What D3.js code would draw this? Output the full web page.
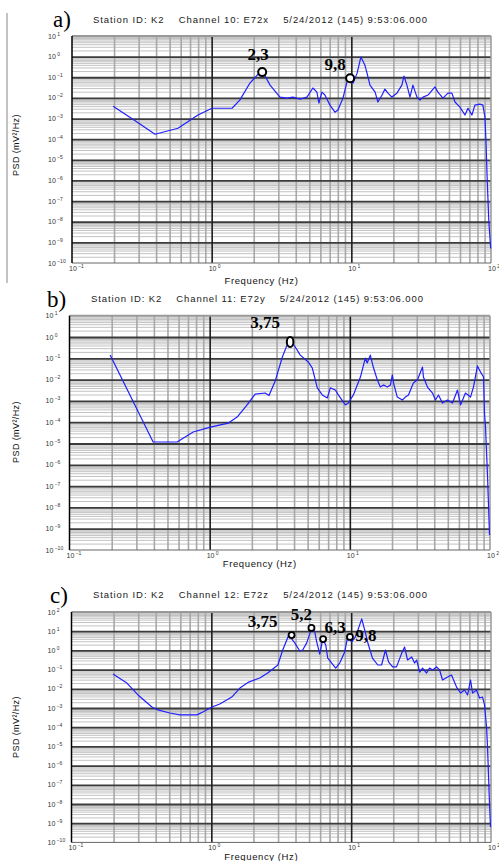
<!DOCTYPE html>
<html>
<head>
<meta charset="utf-8">
<script src="https://cdn.jsdelivr.net/npm/d3@7"></script>
<style>
  body { margin: 0; background: #fff; }
  svg { display: block; }
</style>
</head>
<body>
<svg width="499" height="861"></svg>
<script>
// frequency (Hz) and log10(PSD)
const freqA = [0.197,0.292,0.393,0.574,0.798,1.005,1.40,1.59,1.88,2.22,2.41,2.62,3.08,3.46,3.82,4.29,4.81,5.31,5.67,5.86,6.16,6.47,7.03,7.63,8.02,8.71,9.46,9.77,10.3,11.0,11.7,12.5,12.9,13.6,14.8,15.5,16.6,17.4,18.3,19.5,21.2,23.0,23.8,25.0,26.3,27.6,29.5,31.0,32.6,35.4,39.7,41.7,45.3,49.2,52.5,55.2,59.9,65.1,68.4,73.0,76.7,83.3,87.5,90.5,92.0,94.0,96.5,99.5];
const logPsdA = [-2.40,-3.17,-3.76,-3.47,-2.83,-2.50,-2.50,-2.11,-1.28,-0.75,-0.94,-1.38,-1.96,-2.01,-1.96,-2.06,-1.96,-1.52,-1.72,-2.25,-1.72,-1.86,-2.35,-2.69,-2.59,-2.01,-1.04,-1.23,-1.28,-0.80,-0.02,-0.41,-0.75,-1.38,-1.72,-2.20,-1.86,-1.57,-1.77,-1.96,-1.77,-1.38,-0.94,-1.38,-1.96,-1.38,-1.96,-2.11,-1.96,-1.86,-1.47,-1.72,-2.01,-1.77,-1.77,-2.20,-2.45,-2.83,-2.50,-2.83,-2.35,-2.30,-2.35,-2.93,-4.05,-6.0,-8.0,-9.3];

const freqB = [0.195,0.395,0.586,0.762,1.01,1.36,1.57,1.85,2.11,2.49,2.65,2.94,3.30,3.64,3.88,4.08,4.43,5.05,5.40,5.86,6.36,6.91,7.26,7.88,8.28,9.29,9.76,10.6,11.9,12.9,13.3,14.0,14.7,15.7,16.5,17.4,18.5,19.5,20.1,20.5,21.8,23.7,24.9,26.2,28.4,30.4,33.0,33.5,35.8,38.9,40.8,42.9,45.8,49.7,54.0,58.6,61.6,66.8,72.6,76.2,81.4,85.5,89.9,91.4,92.9,96.0,99.2];
const logPsdB = [-0.85,-4.93,-4.93,-4.46,-4.23,-4.04,-3.76,-3.19,-2.68,-2.63,-2.75,-2.05,-0.94,-0.23,-0.28,-0.47,-0.85,-1.17,-1.46,-2.39,-2.72,-2.86,-2.39,-2.49,-2.72,-3.19,-3.10,-2.72,-1.88,-0.99,-1.22,-0.85,-1.41,-2.01,-2.35,-2.25,-2.35,-2.25,-1.78,-2.16,-2.82,-2.96,-2.82,-2.72,-2.16,-2.01,-1.41,-1.88,-2.35,-2.63,-2.96,-2.72,-3.10,-2.96,-3.10,-2.49,-3.19,-2.63,-2.82,-2.35,-1.36,-1.64,-1.88,-3.57,-4.23,-6.5,-9.3];

const freqC = [0.198,0.249,0.299,0.376,0.415,0.505,0.596,0.788,0.870,1.01,1.15,1.40,1.60,1.85,2.22,2.53,2.99,3.24,3.58,3.95,4.29,4.50,4.81,5.22,5.49,5.67,5.96,6.26,6.58,6.80,7.75,8.28,8.99,9.44,10.1,10.6,11.0,11.9,12.5,13.1,14.2,15.5,16.5,17.6,18.5,19.8,21.1,23.0,24.1,25.3,27.1,28.4,29.4,30.9,32.4,34.6,36.4,38.2,40.8,42.9,45.0,48.9,52.2,54.0,56.7,60.6,64.7,68.0,71.4,73.8,78.8,82.8,87.0,89.9,92.9,94.4,96.0,97.6,99.2];
const logPsdC = [-1.23,-1.70,-2.32,-2.95,-3.10,-3.26,-3.36,-3.36,-3.21,-2.95,-2.79,-2.43,-1.96,-1.65,-1.44,-1.18,-0.76,0.02,0.80,0.39,-0.03,0.02,0.39,1.17,0.96,0.44,-0.19,0.59,0.28,-0.40,-0.92,-0.66,-0.08,0.70,0.44,0.65,0.91,1.64,1.06,0.44,-0.40,-0.76,-0.76,0.02,-0.60,-0.86,-0.86,-0.14,0.18,-0.50,-0.34,-0.66,-0.50,-1.13,-0.92,-1.18,-0.92,-1.02,-0.86,-1.02,-1.54,-1.39,-1.28,-1.54,-1.91,-2.22,-2.06,-2.32,-1.54,-2.22,-2.06,-2.48,-2.43,-2.84,-3.99,-5.0,-6.5,-8.0,-9.2];

// marked peaks
const peakFreqA = [2.3, 9.8];
const peakLogA = [-0.75, -1.05];
const peakLabelA = ['2,3', '9,8'];
const peakFreqB = [3.75];
const peakLogB = [-0.23];
const peakLabelB = ['3,75'];
const peakFreqC = [3.75, 5.2, 6.3, 9.8];
const peakLogC = [0.80, 1.17, 0.59, 0.70];
const peakLabelC = ['3,75', '5,2', '6,3', '9,8'];

// axis ticks
const xTickExp = [-1, 0, 1, 2];
const yTickExpAB = [1, 0, -1, -2, -3, -4, -5, -6, -7, -8, -9, -10];
const yTickExpC = [2, 1, 0, -1, -2, -3, -4, -5, -6, -7, -8, -9, -10];

const titles = [
    'Station ID: K2    Channel 10: E72x    5/24/2012 (145) 9:53:06.000',
    'Station ID: K2    Channel 11: E72y    5/24/2012 (145) 9:53:06.000',
    'Station ID: K2    Channel 12: E72z    5/24/2012 (145) 9:53:06.000'
];
const letters = ['a)', 'b)', 'c)'];

const panels = [
    { freq: freqA, psd: logPsdA, pf: peakFreqA, pl: peakLogA, plab: peakLabelA, yTicks: yTickExpAB,
      left: 72, right: 491, top: 36, bottom: 263, title: titles[0], titleX: 93, titleY: 23, titleLen: 334,
      letter: letters[0], letterX: 53, letterY: 27, freqLabelY: 284, psdLabelY: 145,
      marker: { rx: 4, ry: 4, sw: 2 }, labOff: [[-4, -12], [-15, -8]], border: true },
    { freq: freqB, psd: logPsdB, pf: peakFreqB, pl: peakLogB, plab: peakLabelB, yTicks: yTickExpAB,
      left: 69.5, right: 490, top: 315.7, bottom: 550, title: titles[1], titleX: 91, titleY: 302, titleLen: 332,
      letter: letters[1], letterX: 47, letterY: 307, freqLabelY: 567, psdLabelY: 432,
      marker: { rx: 3.3, ry: 5, sw: 2 }, labOff: [[-25, -14]] },
    { freq: freqC, psd: logPsdC, pf: peakFreqC, pl: peakLogC, plab: peakLabelC, yTicks: yTickExpC,
      left: 71.5, right: 491, top: 612, bottom: 842.4, title: titles[2], titleX: 93, titleY: 598, titleLen: 334,
      letter: letters[2], letterX: 50, letterY: 603, freqLabelY: 860, psdLabelY: 727,
      marker: { rx: 3, ry: 3, sw: 1.8 }, labOff: [[-29, -8], [-10, -8], [12, -6], [16, 4]] }
];

const svg = d3.select('svg');

function pow10(e) { return Math.pow(10, e); }

function drawPanel(p) {
    const g = svg.append('g');
    const yMax = d3.max(p.yTicks), yMin = d3.min(p.yTicks);
    const w = p.right - p.left, h = p.bottom - p.top;

    const x = d3.scaleLog().domain([0.1, 100]).range([p.left, p.right]);
    const y = d3.scaleLog().domain([pow10(yMin), pow10(yMax)]).range([p.bottom, p.top]);

    g.append('rect').attr('x', p.left).attr('y', p.top).attr('width', w).attr('height', h).attr('fill', '#fff');

    // minor / major grid values
    const minorX = [], minorY = [];
    for (let k = -1; k < 2; k++) for (let m = 2; m <= 9; m++) minorX.push(m * pow10(k));
    for (let k = yMin; k < yMax; k++) for (let m = 2; m <= 9; m++) minorY.push(m * pow10(k));
    const majorX = [1, 10];
    const majorY = p.yTicks.filter(e => e !== yMin && e !== yMax).map(pow10);

    g.append('g')
        .attr('transform', 'translate(' + p.left + ',0)')
        .call(d3.axisLeft(y).tickValues(minorY).tickSize(-w).tickFormat(''))
        .call(s => s.select('.domain').remove())
        .selectAll('line').attr('stroke', '#c2c2c2').attr('stroke-width', 1);

    g.append('g')
        .attr('transform', 'translate(0,' + p.bottom + ')')
        .call(d3.axisBottom(x).tickValues(minorX).tickSize(-h).tickFormat(''))
        .call(s => s.select('.domain').remove())
        .selectAll('line').attr('stroke', '#a8a8a8').attr('stroke-width', 1.6);

    g.append('g')
        .attr('transform', 'translate(' + p.left + ',0)')
        .call(d3.axisLeft(y).tickValues(majorY).tickSize(-w).tickFormat(''))
        .call(s => s.select('.domain').remove())
        .selectAll('line').attr('stroke', '#3c3c3c').attr('stroke-width', 1.8);

    g.append('g')
        .attr('transform', 'translate(0,' + p.bottom + ')')
        .call(d3.axisBottom(x).tickValues(majorX).tickSize(-h).tickFormat(''))
        .call(s => s.select('.domain').remove())
        .selectAll('line').attr('stroke', '#1e1e1e').attr('stroke-width', 1.6);

    // frame
    g.append('line').attr('x1', p.left).attr('x2', p.right).attr('y1', p.top).attr('y2', p.top)
        .attr('stroke', '#999').attr('stroke-width', 2);
    g.append('line').attr('x1', p.right).attr('x2', p.right).attr('y1', p.top).attr('y2', p.bottom)
        .attr('stroke', '#999').attr('stroke-width', 1.5);
    g.append('line').attr('x1', p.left).attr('x2', p.right).attr('y1', p.bottom).attr('y2', p.bottom)
        .attr('stroke', '#666').attr('stroke-width', 1);
    g.append('line').attr('x1', p.left).attr('x2', p.left).attr('y1', p.top).attr('y2', p.bottom)
        .attr('stroke', '#000').attr('stroke-width', 1.5);

    // tick labels
    p.yTicks.forEach(e => {
        const t = g.append('text')
            .attr('x', p.left - 24).attr('y', y(pow10(e)) + 2.5)
            .attr('font-family', 'Arial, Liberation Sans, sans-serif').attr('font-size', 7)
            .attr('fill', '#333');
        t.append('tspan').text('10');
        t.append('tspan').attr('dy', -3).attr('font-size', 5).text(' ' + (e < 0 ? '\u2212' + (-e) : e));
    });
    xTickExp.forEach(e => {
        const t = g.append('text')
            .attr('x', x(pow10(e)) - 3).attr('y', p.bottom + 8)
            .attr('font-family', 'Arial, Liberation Sans, sans-serif').attr('font-size', 7)
            .attr('fill', '#333');
        t.append('tspan').text('10');
        t.append('tspan').attr('dy', -3).attr('font-size', 5).text(' ' + (e < 0 ? '\u2212' + (-e) : e));
    });

    // axis titles
    g.append('text')
        .attr('x', (p.left + p.right) / 2 - 20).attr('y', p.freqLabelY)
        .attr('text-anchor', 'middle')
        .attr('font-family', 'Arial, Liberation Sans, sans-serif').attr('font-size', 9.5)
        .attr('letter-spacing', 0.6).attr('fill', '#111')
        .text('Frequency (Hz)');
    g.append('text')
        .attr('transform', 'translate(19,' + p.psdLabelY + ') rotate(-90)')
        .attr('text-anchor', 'middle')
        .attr('font-family', 'Arial, Liberation Sans, sans-serif').attr('font-size', 9)
        .attr('letter-spacing', 0.4).attr('fill', '#111')
        .text('PSD (mV\u00b2/Hz)');

    // title
    g.append('text')
        .attr('x', p.titleX).attr('y', p.titleY)
        .attr('textLength', p.titleLen).attr('lengthAdjust', 'spacing')
        .attr('font-family', 'Arial, Liberation Sans, sans-serif').attr('font-size', 9.5)
        .attr('fill', '#222')
        .style('white-space', 'pre')
        .text(p.title);

    // spectrum
    const line = d3.line()
        .x((d, i) => x(p.freq[i]))
        .y(d => y(pow10(d)));
    g.append('path')
        .datum(p.psd)
        .attr('fill', 'none')
        .attr('stroke', '#1f1fff')
        .attr('stroke-width', 1.2)
        .attr('stroke-linejoin', 'round')
        .attr('d', line);

    // peaks
    p.pf.forEach((f, i) => {
        const cx = x(f), cy = y(pow10(p.pl[i]));
        g.append('ellipse')
            .attr('cx', cx).attr('cy', cy)
            .attr('rx', p.marker.rx).attr('ry', p.marker.ry)
            .attr('fill', '#fff').attr('stroke', '#000').attr('stroke-width', p.marker.sw);
        g.append('text')
            .attr('x', cx + p.labOff[i][0]).attr('y', cy + p.labOff[i][1])
            .attr('text-anchor', 'middle')
            .attr('font-family', 'Times New Roman, Liberation Serif, serif')
            .attr('font-weight', 'bold').attr('font-size', 17)
            .attr('fill', '#000')
            .text(p.plab[i]);
    });

    // panel letter
    g.append('text')
        .attr('x', p.letterX).attr('y', p.letterY)
        .attr('font-family', 'Times New Roman, Liberation Serif, serif')
        .attr('font-size', 23).attr('fill', '#000')
        .text(p.letter);

    if (p.border) {
        svg.append('line').attr('x1', 7).attr('x2', 7).attr('y1', 13).attr('y2', 283)
            .attr('stroke', '#888').attr('stroke-width', 1);
    }
}

panels.forEach(drawPanel);
</script>
</body>
</html>
